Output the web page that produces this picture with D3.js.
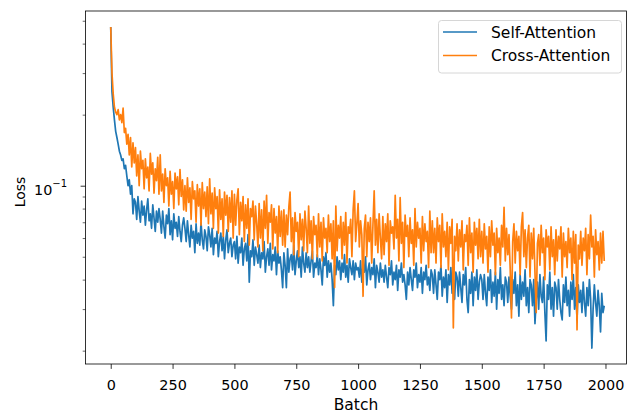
<!DOCTYPE html>
<html>
<head>
<meta charset="utf-8">
<script src="https://cdn.jsdelivr.net/npm/d3@7"></script>
<style>
	body { margin: 0; background: #fff; }
	svg { display: block; font-family: "DejaVu Sans", sans-serif; }
</style>
</head>
<body>
<svg id="chart" width="628" height="413"></svg>
<script>
// loss logged every 5 batches
var batchStep = 5;
var seriesNames = ["Self-Attention", "Cross-Attention"];
var xTicks = [0, 250, 500, 750, 1000, 1250, 1500, 1750, 2000];
var yMajorTicks = [0.1];
var yMinorTicks = [0.02, 0.03, 0.04, 0.05, 0.06, 0.07, 0.08, 0.09, 0.2, 0.3, 0.4, 0.5];

var selfLoss = [
	0.47, 0.25, 0.215, 0.19, 0.17, 0.16, 0.15, 0.14, 0.135, 0.128, 0.13, 0.118, 0.122, 0.11, 0.1, 0.106, 0.092, 0.1, 0.076, 0.088,
	0.085, 0.072, 0.09, 0.078, 0.07, 0.086, 0.075, 0.082, 0.068, 0.079, 0.088, 0.071, 0.076, 0.066, 0.083, 0.073, 0.064, 0.078, 0.07, 0.08,
	0.072, 0.063, 0.078, 0.067, 0.06, 0.075, 0.069, 0.08, 0.062, 0.071, 0.059, 0.076, 0.066, 0.07, 0.061, 0.074, 0.064, 0.058, 0.068, 0.073,
	0.066, 0.058, 0.071, 0.062, 0.055, 0.068, 0.06, 0.064, 0.052, 0.069, 0.057, 0.063, 0.056, 0.07, 0.059, 0.054, 0.065, 0.061, 0.053, 0.067,
	0.062, 0.055, 0.066, 0.051, 0.06, 0.057, 0.064, 0.05, 0.058, 0.063, 0.053, 0.061, 0.049, 0.059, 0.065, 0.052, 0.057, 0.06, 0.05, 0.056,
	0.058, 0.049, 0.061, 0.047, 0.055, 0.052, 0.06, 0.046, 0.054, 0.057, 0.048, 0.062, 0.039, 0.053, 0.05, 0.059, 0.046, 0.055, 0.051, 0.047,
	0.056, 0.045, 0.052, 0.049, 0.058, 0.043, 0.05, 0.054, 0.046, 0.057, 0.044, 0.051, 0.048, 0.055, 0.042, 0.053, 0.047, 0.05, 0.044, 0.037,
	0.052, 0.046, 0.037, 0.054, 0.043, 0.049, 0.051, 0.044, 0.056, 0.042, 0.048, 0.053, 0.045, 0.05, 0.041, 0.055, 0.047, 0.043, 0.052, 0.045,
	0.05, 0.043, 0.048, 0.053, 0.041, 0.047, 0.045, 0.051, 0.042, 0.049, 0.044, 0.038, 0.05, 0.046, 0.052, 0.041, 0.048, 0.043, 0.047, 0.04,
	0.031, 0.046, 0.042, 0.05, 0.044, 0.048, 0.04, 0.047, 0.043, 0.051, 0.041, 0.046, 0.039, 0.049, 0.045, 0.042, 0.048, 0.04, 0.047, 0.044,
	0.045, 0.041, 0.048, 0.039, 0.046, 0.043, 0.05, 0.038, 0.044, 0.047, 0.04, 0.045, 0.042, 0.049, 0.037, 0.046, 0.043, 0.039, 0.047, 0.041,
	0.044, 0.039, 0.046, 0.041, 0.037, 0.045, 0.042, 0.048, 0.038, 0.043, 0.04, 0.046, 0.036, 0.044, 0.041, 0.047, 0.039, 0.042, 0.038, 0.033,
	0.043, 0.038, 0.045, 0.04, 0.036, 0.044, 0.041, 0.047, 0.037, 0.042, 0.039, 0.045, 0.035, 0.043, 0.04, 0.046, 0.038, 0.041, 0.036, 0.044,
	0.042, 0.035, 0.044, 0.038, 0.033, 0.043, 0.04, 0.046, 0.034, 0.041, 0.037, 0.044, 0.032, 0.042, 0.038, 0.045, 0.035, 0.04, 0.033, 0.043,
	0.041, 0.034, 0.043, 0.037, 0.032, 0.042, 0.038, 0.045, 0.033, 0.029, 0.04, 0.035, 0.043, 0.031, 0.041, 0.036, 0.044, 0.033, 0.039, 0.042,
	0.04, 0.033, 0.042, 0.035, 0.031, 0.041, 0.036, 0.044, 0.032, 0.039, 0.034, 0.043, 0.03, 0.04, 0.035, 0.045, 0.033, 0.038, 0.031, 0.041,
	0.039, 0.032, 0.041, 0.034, 0.03, 0.04, 0.035, 0.043, 0.031, 0.038, 0.028, 0.042, 0.033, 0.039, 0.034, 0.044, 0.031, 0.037, 0.029, 0.04,
	0.038, 0.031, 0.04, 0.026, 0.033, 0.039, 0.03, 0.042, 0.034, 0.032, 0.041, 0.029, 0.022, 0.038, 0.033, 0.043, 0.03, 0.037, 0.028, 0.039,
	0.037, 0.03, 0.04, 0.033, 0.029, 0.027, 0.038, 0.032, 0.041, 0.031, 0.036, 0.028, 0.039, 0.033, 0.042, 0.03, 0.037, 0.027, 0.038, 0.032,
	0.036, 0.029, 0.039, 0.032, 0.028, 0.037, 0.031, 0.04, 0.033, 0.0205, 0.03, 0.038, 0.032, 0.028, 0.036, 0.031, 0.024, 0.035, 0.029, 0.031
];

var crossLoss = [
	0.47, 0.30, 0.245, 0.215, 0.205, 0.2, 0.21, 0.19, 0.2, 0.185, 0.213, 0.168, 0.175, 0.15, 0.165, 0.135, 0.16, 0.12, 0.152, 0.125,
	0.145, 0.11, 0.135, 0.1, 0.14, 0.118, 0.128, 0.097, 0.13, 0.108, 0.12, 0.095, 0.137, 0.112, 0.125, 0.093, 0.118, 0.105, 0.132, 0.092,
	0.135, 0.095, 0.112, 0.085, 0.118, 0.1, 0.108, 0.082, 0.115, 0.092, 0.104, 0.08, 0.113, 0.097, 0.109, 0.083, 0.117, 0.09, 0.106, 0.079,
	0.1, 0.078, 0.108, 0.085, 0.098, 0.072, 0.104, 0.088, 0.095, 0.07, 0.101, 0.082, 0.097, 0.068, 0.103, 0.08, 0.094, 0.074, 0.099, 0.069,
	0.107, 0.076, 0.093, 0.066, 0.098, 0.08, 0.09, 0.063, 0.096, 0.072, 0.088, 0.061, 0.094, 0.075, 0.091, 0.064, 0.089, 0.07, 0.095, 0.06,
	0.092, 0.068, 0.087, 0.097, 0.062, 0.085, 0.071, 0.09, 0.058, 0.083, 0.066, 0.088, 0.056, 0.08, 0.074, 0.086, 0.059, 0.082, 0.069, 0.055,
	0.084, 0.06, 0.079, 0.053, 0.086, 0.066, 0.091, 0.057, 0.077, 0.07, 0.083, 0.054, 0.08, 0.063, 0.074, 0.052, 0.082, 0.061, 0.078, 0.056,
	0.079, 0.055, 0.075, 0.062, 0.081, 0.094, 0.058, 0.073, 0.051, 0.077, 0.064, 0.07, 0.05, 0.076, 0.059, 0.072, 0.053, 0.078, 0.066, 0.052,
	0.082, 0.057, 0.071, 0.049, 0.074, 0.062, 0.068, 0.05, 0.076, 0.055, 0.07, 0.048, 0.073, 0.06, 0.066, 0.052, 0.075, 0.058, 0.069, 0.049,
	0.071, 0.037, 0.082, 0.053, 0.068, 0.06, 0.074, 0.049, 0.07, 0.056, 0.077, 0.047, 0.067, 0.063, 0.072, 0.05, 0.079, 0.095, 0.058, 0.069,
	0.084, 0.055, 0.071, 0.062, 0.034, 0.066, 0.075, 0.05, 0.07, 0.058, 0.073, 0.047, 0.068, 0.095, 0.056, 0.072, 0.052, 0.076, 0.06, 0.049,
	0.074, 0.051, 0.069, 0.058, 0.076, 0.046, 0.071, 0.063, 0.067, 0.054, 0.091, 0.06, 0.072, 0.048, 0.089, 0.057, 0.07, 0.045, 0.075, 0.061,
	0.068, 0.05, 0.073, 0.057, 0.065, 0.046, 0.08, 0.055, 0.07, 0.06, 0.066, 0.047, 0.074, 0.053, 0.069, 0.058, 0.064, 0.045, 0.078, 0.052,
	0.071, 0.052, 0.066, 0.047, 0.073, 0.058, 0.068, 0.045, 0.076, 0.055, 0.064, 0.05, 0.07, 0.044, 0.067, 0.057, 0.072, 0.025, 0.061, 0.053,
	0.069, 0.048, 0.065, 0.055, 0.071, 0.044, 0.062, 0.058, 0.068, 0.046, 0.073, 0.052, 0.063, 0.043, 0.07, 0.056, 0.066, 0.049, 0.072, 0.05,
	0.064, 0.047, 0.069, 0.054, 0.061, 0.043, 0.067, 0.05, 0.071, 0.056, 0.063, 0.042, 0.066, 0.052, 0.06, 0.046, 0.068, 0.055, 0.081, 0.048,
	0.066, 0.051, 0.062, 0.044, 0.0275, 0.058, 0.069, 0.047, 0.064, 0.053, 0.061, 0.042, 0.067, 0.077, 0.05, 0.065, 0.045, 0.06, 0.068, 0.041,
	0.063, 0.049, 0.066, 0.043, 0.029, 0.057, 0.062, 0.046, 0.068, 0.052, 0.06, 0.04, 0.065, 0.055, 0.061, 0.044, 0.067, 0.05, 0.059, 0.042,
	0.065, 0.048, 0.061, 0.054, 0.067, 0.041, 0.063, 0.05, 0.058, 0.045, 0.066, 0.052, 0.06, 0.04, 0.064, 0.047, 0.062, 0.0245, 0.056, 0.049,
	0.064, 0.046, 0.06, 0.053, 0.066, 0.042, 0.062, 0.049, 0.075, 0.055, 0.061, 0.041, 0.065, 0.051, 0.058, 0.044, 0.063, 0.047, 0.064, 0.048
];

var colors = ["#1f77b4", "#ff7f0e"];

// axes box, in page pixels (not "top": that name is taken by window.top)
var plotLeft = 85.5, plotRight = 626.5, plotTop = 11, plotBottom = 364;

var svg = d3.select("#chart");

var x = d3.scaleLinear().domain([-102, 2085]).range([plotLeft, plotRight]);
var y = d3.scaleLog().domain([Math.pow(10, -1.7555), Math.pow(10, -0.2597)]).range([plotBottom, plotTop]);

svg.append("defs").append("clipPath").attr("id", "plotclip")
	.append("rect").attr("x", plotLeft).attr("y", plotTop)
	.attr("width", plotRight - plotLeft).attr("height", plotBottom - plotTop);

var line = d3.line()
	.x(function(d, i) { return x(i * batchStep); })
	.y(function(d) { return y(d); });

var plot = svg.append("g").attr("clip-path", "url(#plotclip)");
[selfLoss, crossLoss].forEach(function(series, k) {
	plot.append("path")
		.datum(series)
		.attr("fill", "none")
		.attr("stroke", colors[k])
		.attr("stroke-width", 1.7)
		.attr("stroke-linejoin", "round")
		.attr("d", line);
});

// x axis
var xAxis = svg.append("g")
	.attr("transform", "translate(0," + plotBottom + ")")
	.call(d3.axisBottom(x).tickValues(xTicks).tickFormat(d3.format("d")).tickSize(4.9));
xAxis.select(".domain").remove();
xAxis.selectAll("text")
	.attr("y", 25.5).attr("dy", null)
	.attr("font-size", "14.4px").attr("fill", "#000").attr("font-family", "DejaVu Sans");
xAxis.selectAll("line").attr("stroke", "#000").attr("stroke-width", 0.8);

// y axis, minor then major ticks
var yMinor = svg.append("g")
	.attr("transform", "translate(" + plotLeft + ",0)")
	.call(d3.axisLeft(y).tickValues(yMinorTicks).tickFormat("").tickSize(2.8));
yMinor.select(".domain").remove();
yMinor.selectAll("line").attr("stroke", "#000").attr("stroke-width", 0.6);

var yMajor = svg.append("g")
	.attr("transform", "translate(" + plotLeft + ",0)")
	.call(d3.axisLeft(y).tickValues(yMajorTicks).tickSize(4.9).tickPadding(13.5).tickFormat(""));
yMajor.select(".domain").remove();
yMajor.selectAll("line").attr("stroke", "#000").attr("stroke-width", 0.8);
yMajor.selectAll(".tick").each(function() {
	var t = d3.select(this).select("text")
		.attr("font-size", "14.4px").attr("fill", "#000").attr("font-family", "DejaVu Sans")
		.attr("dy", null).attr("y", 8.3);
	t.append("tspan").text("10");
	t.append("tspan").attr("font-size", "10px").attr("dy", "-0.75em").text("\u22121");
});

// spines
svg.append("rect")
	.attr("x", plotLeft).attr("y", plotTop)
	.attr("width", plotRight - plotLeft).attr("height", plotBottom - plotTop)
	.attr("fill", "none").attr("stroke", "#000").attr("stroke-width", 0.8);

// axis labels
svg.append("text")
	.attr("x", (plotLeft + plotRight) / 2).attr("y", 410)
	.attr("text-anchor", "middle").attr("font-size", "15.5px").attr("fill", "#000")
	.text("Batch");
svg.append("text")
	.attr("transform", "translate(24.5,192) rotate(-90)")
	.attr("text-anchor", "middle").attr("font-size", "13.9px").attr("fill", "#000")
	.text("Loss");

// legend
var legend = svg.append("g");
legend.append("rect")
	.attr("x", 438.5).attr("y", 20.5).attr("width", 183).attr("height", 52.5)
	.attr("rx", 3).attr("ry", 3)
	.attr("fill", "#fff").attr("fill-opacity", 0.8)
	.attr("stroke", "#d6d6d6").attr("stroke-width", 1);
seriesNames.forEach(function(name, k) {
	var ly = 32 + k * 23.5;
	legend.append("line")
		.attr("x1", 443).attr("x2", 477).attr("y1", ly).attr("y2", ly)
		.attr("stroke", colors[k]).attr("stroke-width", 1.5);
	legend.append("text")
		.attr("x", 491).attr("y", ly).attr("dy", "0.36em")
		.attr("font-size", "15.5px").attr("fill", "#000")
		.text(name);
});
</script>
</body>
</html>
